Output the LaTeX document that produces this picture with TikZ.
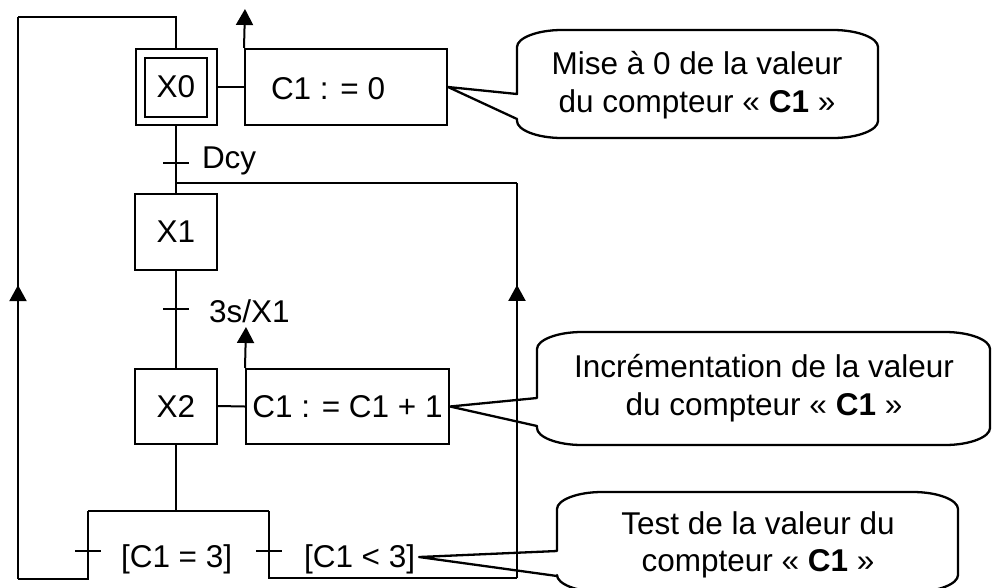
\documentclass[tikz,border=0pt]{standalone}
\usepackage{fontspec}
\setmainfont{Liberation Sans}
\usetikzlibrary{arrows.meta,decorations.markings}

% rounded speech bubble: #1 x1, #2 y1, #3 x2, #4 y2, #5 upper pointer y, #6 lower pointer y, #7 pointer tip
\newcommand\bubbleoutline[7]{%
  \draw[bubble] (#1+45,#2) -- (#3-45,#2)
    .. controls (#3-20,#2) and (#3,#2+8) .. (#3,#2+17)
    -- (#3,#4-17)
    .. controls (#3,#4-8) and (#3-20,#4) .. (#3-45,#4)
    -- (#1+45,#4)
    .. controls (#1+20,#4) and (#1,#4-8) .. (#1,#4-17)
    -- (#1,#6) -- (#7) -- (#1,#5) -- (#1,#2+17)
    .. controls (#1,#2+8) and (#1+20,#2) .. cycle;}

\begin{document}
\begin{tikzpicture}[x=1pt,y=-1pt,line width=2pt,
  every node/.style={font=\fontsize{31.5}{37.5}\selectfont,inner sep=0pt},
  stepbox/.style={draw,minimum width=82pt,minimum height=76pt},
  actbox/.style={draw,minimum width=203pt,minimum height=76pt},
  uparrow/.style={-{Triangle[length=16pt,width=17pt]}},
  midarrow/.style={postaction={decorate},decoration={markings,
      mark=at position #1 with {\arrow{Triangle[length=16pt,width=17pt]}}}},
  bubble/.style={line width=2.3pt,line join=round},
  trlabel/.style={anchor=base west},
  tick/.style={line width=2pt}]
\useasboundingbox (0,0) rectangle (992,587);

% steps
\node[stepbox,minimum width=81pt] (X0) at (176,87) {};
\node[draw,minimum width=62pt,minimum height=59pt] (X0in) at (X0) {X0};
\node[stepbox] (X1) at (176,232) {X1};
\node[stepbox,minimum height=75pt] (X2) at (176,406) {X2};

% actions
\node[actbox,minimum width=202pt] (A0) at (346,87) {};
\node[anchor=west] (A0t) at (270,88.5) {C1 : = 0};
\node[actbox,minimum height=75pt] (A2) at (347.5,406.5) {C1 : = C1 + 1};
\coordinate (A0up) at (245,9);
\coordinate (A2up) at (246,327);
\draw (X0.east) -- (A0.west);
\draw (X2.east) -- (A2.west);
\draw[uparrow] (A0.north west) -- (A0up);
\draw[uparrow] (A2.north west) -- (A2up);

% routing points
\coordinate (loopTL) at (18,17);
\coordinate (loopBL) at (18,579);
\coordinate (divL) at (88,511);
\coordinate (divR) at (269,511);
\coordinate (botL) at (88,579);
\coordinate (botR) at (269,578);
\coordinate (loopBR) at (517,578);
\coordinate (loopTR) at (517,183);
\coordinate (join) at (176,183);
\coordinate (tD) at (176,163);
\coordinate (t3) at (176,309);
\coordinate (tA) at (88,551);
\coordinate (tB) at (269,551);

% main sequence
\draw (X0.south) -- (X1.north);
\draw (X1.south) -- (X2.north);
\draw (X2.south) -- (X2.south |- divL);
\draw (divL) -- (divR);

% loop back to X0
\draw (X0.north) |- (loopTL);
\draw[midarrow=0.523] (loopBL) -- (loopTL);
\draw (loopBL) -- (botL) -- (divL);

% loop back to X1
\draw (join) -- (loopTR);
\draw[midarrow=0.742] (loopBR) -- (loopTR);
\draw (loopBR) -- (botR) -- (divR);

% transitions
\foreach \t/\w in {tD/13,t3/13,tA/13,tB/13}
  \draw[tick] ([xshift=-\w pt]\t) -- ([xshift=\w pt]\t);
\node[trlabel] (lDcy) at (201,168) {Dcy};
\node[trlabel] (l3s) at (208,322) {3s/X1};
\node[trlabel] (lA) at (120,567) {[C1 = 3]};
\node[trlabel] (lB) at (303,567) {[C1 < 3]};
\coordinate (ptrB) at (419,557);

% comment bubbles
\bubbleoutline{517}{30}{878}{138}{94}{119}{A0.east}
\node[align=center] (N1) at (697,85) {Mise à 0 de la valeur\\du compteur « \textbf{C1} »};
\bubbleoutline{537}{332}{990}{445}{398}{426}{A2.east}
\node[align=center] (N2) at (764,388) {Incrémentation de la valeur\\du compteur « \textbf{C1} »};
\bubbleoutline{557}{492}{958}{592}{551}{576}{ptrB}
\node[align=center] (N3) at (758,545) {Test de la valeur du\\compteur « \textbf{C1} »};
\end{tikzpicture}
\end{document}
